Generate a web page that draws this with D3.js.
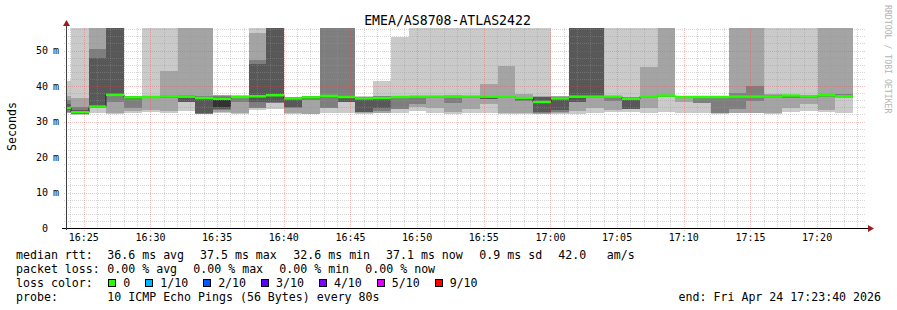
<!DOCTYPE html>
<html>
<head>
<meta charset="utf-8">
<script src="https://cdn.jsdelivr.net/npm/d3@7"></script>
<style>
body { margin: 0; background: #fff; }
text { font-family: "DejaVu Sans Mono", monospace; fill: #000; }
</style>
</head>
<body>
<svg id="chart" width="897" height="310"></svg>
<script>
var title = "EMEA/AS8708-ATLAS2422";
var startTime = new Date(2026, 3, 24, 16, 23, 40);
var endTime = new Date(2026, 3, 24, 17, 23, 40);
var firstStepEnd = new Date(2026, 3, 24, 16, 24, 2);
var stepSec = 80;

// 10 sorted pings per 80s step (ms), 60 = off the top of the chart
var pings = [
  [32.3, 32.5, 32.8, 33.2, 33.7, 34.0, 35.0, 36.0, 37.2, 41.4],
  [31.9, 32.0, 32.1, 32.2, 32.5, 32.7, 33.1, 34.0, 36.6, 60],
  [32.5, 33.7, 33.8, 33.9, 34.1, 34.3, 48.0, 50.4, 58, 60],
  [32.1, 32.3, 35.6, 37.2, 37.4, 37.7, 57, 58, 59, 60],
  [32.5, 33.0, 33.8, 36.3, 36.8, 36.9, 36.95, 37.1, 37.2, 37.3],
  [32.8, 33.2, 36.5, 36.7, 36.8, 36.9, 37.0, 37.1, 37.3, 60],
  [32.3, 33.0, 36.5, 36.9, 37.1, 37.2, 37.3, 37.5, 44.3, 60],
  [33.0, 35.4, 35.5, 35.6, 36.9, 37.1, 37.3, 37.5, 59, 60],
  [32.0, 32.1, 32.2, 32.3, 36.5, 36.7, 36.9, 37.3, 59, 60],
  [32.5, 32.8, 33.3, 33.5, 34.0, 36.5, 37.0, 37.2, 37.4, 37.6],
  [32.2, 32.5, 35.5, 36.6, 36.8, 37.0, 37.1, 37.2, 37.3, 37.4],
  [33.2, 33.8, 33.9, 35.6, 37.0, 37.3, 46.2, 47.3, 55.0, 60],
  [33.5, 35.2, 35.3, 35.4, 37.4, 37.6, 57, 58, 59, 60],
  [32.2, 32.3, 33.9, 34.0, 36.3, 36.6, 36.7, 36.8, 36.9, 37.0],
  [32.0, 32.2, 36.0, 36.4, 36.7, 36.9, 37.0, 37.1, 37.2, 37.3],
  [32.5, 33.7, 33.8, 36.9, 37.1, 37.3, 37.5, 58, 59, 60],
  [32.3, 35.4, 35.5, 35.6, 36.8, 37.0, 37.2, 58, 59, 60],
  [32.2, 32.4, 32.6, 32.8, 36.3, 36.7, 36.8, 36.9, 37.0, 37.2],
  [32.3, 32.5, 33.0, 33.9, 36.4, 36.8, 37.0, 37.1, 37.3, 41.4],
  [32.3, 33.4, 33.5, 36.5, 36.8, 37.0, 37.1, 37.2, 37.3, 53.9],
  [33.0, 34.0, 35.0, 36.8, 36.9, 37.0, 37.1, 37.2, 37.3, 60],
  [32.5, 33.8, 36.5, 36.7, 36.9, 37.0, 37.1, 37.2, 37.3, 60],
  [32.2, 32.8, 35.3, 36.8, 37.0, 37.1, 37.2, 37.3, 37.4, 60],
  [32.3, 33.5, 36.5, 36.7, 36.9, 37.0, 37.1, 37.2, 37.3, 60],
  [32.3, 35.0, 36.2, 36.4, 36.9, 37.1, 37.2, 37.3, 40.6, 60],
  [32.2, 32.3, 36.6, 36.8, 37.0, 37.1, 37.2, 37.3, 45.6, 60],
  [32.2, 32.3, 35.7, 36.0, 36.5, 36.7, 36.9, 37.0, 37.7, 60],
  [32.1, 32.2, 32.4, 32.6, 35.4, 35.7, 36.9, 37.0, 37.1, 60],
  [32.2, 32.4, 32.8, 33.3, 36.3, 36.7, 36.9, 37.0, 37.1, 37.3],
  [32.2, 33.0, 35.5, 35.6, 36.8, 37.2, 57, 58, 59, 60],
  [32.3, 33.7, 36.5, 36.7, 36.9, 37.2, 57, 58, 59, 60],
  [32.6, 33.3, 35.8, 36.7, 36.9, 37.0, 37.1, 37.2, 37.3, 60],
  [32.6, 33.4, 33.5, 33.6, 36.2, 36.6, 36.7, 36.8, 37.0, 60],
  [32.5, 33.8, 36.6, 36.8, 37.0, 37.1, 37.2, 37.3, 45.4, 60],
  [32.7, 36.8, 37.0, 37.1, 37.3, 37.4, 37.5, 37.6, 59, 60],
  [32.3, 35.5, 36.5, 36.7, 36.8, 36.9, 37.0, 37.1, 37.2, 37.3],
  [32.5, 35.2, 35.3, 36.6, 36.9, 36.95, 37.0, 37.1, 37.2, 37.3],
  [32.2, 32.3, 32.4, 36.6, 36.9, 36.95, 37.0, 37.1, 37.2, 37.3],
  [32.3, 32.5, 33.5, 36.5, 36.9, 37.1, 37.3, 38.1, 59, 60],
  [32.3, 32.5, 35.8, 36.6, 36.9, 37.1, 37.3, 39.9, 59, 60],
  [32.2, 32.3, 36.5, 36.7, 36.9, 37.1, 37.3, 37.4, 37.7, 60],
  [32.7, 33.9, 36.7, 37.0, 37.2, 37.3, 37.4, 37.5, 37.6, 60],
  [33.0, 35.0, 36.5, 36.8, 37.0, 37.2, 37.3, 37.4, 37.5, 60],
  [32.6, 33.2, 37.0, 37.2, 37.4, 37.5, 37.6, 37.8, 59, 60],
  [32.3, 36.5, 37.0, 37.2, 37.3, 37.5, 37.6, 37.7, 59, 60]
];

var medians = [
  33.8, 32.6, 34.2, 37.5, 36.8, 36.9, 37.1, 37.0, 36.6, 36.4,
  36.9, 37.1, 37.4, 36.5, 36.8, 37.2, 36.9, 36.5, 36.6, 36.9,
  37.0, 37.0, 37.0, 37.0, 37.0, 37.0, 36.6, 35.5, 36.5, 37.0,
  37.0, 37.0, 36.4, 37.0, 37.3, 36.9, 36.9, 36.9, 37.0, 37.0,
  37.0, 37.3, 37.1, 37.4, 37.1
];

var smokeColors = ["#cacaca", "#a4a4a4", "#7e7e7e", "#585858", "#323232"];
var yTicks = [0, 10, 20, 30, 40, 50];

var rttLabel = "median rtt:";
var rttStats = ["36.6 ms avg", "37.5 ms max", "32.6 ms min", "37.1 ms now", "0.9 ms sd", "42.0", "am/s"];
var lossLabel = "packet loss:";
var lossStats = ["0.00 % avg", "0.00 % max", "0.00 % min", "0.00 % now"];
var colorLabel = "loss color:";
var lossNames = ["0", "1/10", "2/10", "3/10", "4/10", "5/10", "9/10"];
var lossColors = ["#26ff00", "#00b8ff", "#0059ff", "#5e00ff", "#7e00ff", "#dd00ff", "#ff0000"];
var probeLabel = "probe:";
var probeText = "10 ICMP Echo Pings (56 Bytes) every 80s";
var endText = "end: Fri Apr 24 17:23:40 2026";

var svg = d3.select("#chart");
var plotL = 66, plotR = 866, plotT = 28, plotB = 228;
var minorCol = "rgba(150,150,150,0.38)", majorCol = "rgba(230,70,70,0.33)";

var x = d3.scaleTime().domain([startTime, endTime]).range([plotL, plotR]);
var y = d3.scaleLinear().domain([0, 200 / 3.55]).range([plotB, plotT]);

svg.append("defs").append("clipPath").attr("id", "plot")
  .append("rect").attr("x", plotL).attr("y", plotT).attr("width", plotR - plotL).attr("height", plotB - plotT);

var cols = pings.map(function (p, i) {
  var t1 = new Date(firstStepEnd.getTime() + i * stepSec * 1000);
  var t0 = i == 0 ? startTime : new Date(t1.getTime() - stepSec * 1000);
  return {p: p, med: medians[i], x0: Math.round(x(t0)), x1: Math.round(x(t1))};
});

// smoke
var plot = svg.append("g").attr("clip-path", "url(#plot)");
smokeColors.forEach(function (c, b) {
  plot.append("g").selectAll("rect")
    .data(cols)
    .enter()
    .append("rect")
    .attr("x", function (d) { return d.x0; })
    .attr("width", function (d) { return d.x1 - d.x0; })
    .attr("y", function (d) { return Math.round(y(d.p[9 - b])); })
    .attr("height", function (d) { return Math.max(0, Math.round(y(d.p[b])) - Math.round(y(d.p[9 - b]))); })
    .attr("fill", c)
    .attr("shape-rendering", "crispEdges");
});

// median line + loss colour band
var stepPts = [];
cols.forEach(function (d) { stepPts.push([d.x0, y(d.med)], [d.x1, y(d.med)]); });
plot.append("path")
  .attr("d", d3.line()(stepPts))
  .attr("fill", "none")
  .attr("stroke", "#202020")
  .attr("stroke-width", 1);

plot.append("g").selectAll("rect")
  .data(cols)
  .enter()
  .append("rect")
  .attr("x", function (d) { return d.x0; })
  .attr("width", function (d) { return d.x1 - d.x0; })
  .attr("y", function (d) { return y(d.med) - 1.25; })
  .attr("height", 2.5)
  .attr("fill", lossColors[0]);

// grid on top
var grid = svg.append("g");
var minorX = x.ticks(d3.timeMinute.every(1));
var majorX = x.ticks(d3.timeMinute.every(5));
var majorSet = majorX.map(function (d) { return +d; });
grid.selectAll(".vmin")
  .data(minorX.filter(function (d) { return majorSet.indexOf(+d) < 0; }))
  .enter().append("line")
  .attr("x1", function (d) { return Math.round(x(d)) + 0.5; })
  .attr("x2", function (d) { return Math.round(x(d)) + 0.5; })
  .attr("y1", plotT).attr("y2", plotB + 2)
  .attr("stroke", minorCol)
  .attr("stroke-dasharray", "1,1");

var minorY = d3.range(2, 57, 2).filter(function (v) { return v % 10 != 0; });
grid.selectAll(".hmin")
  .data(minorY)
  .enter().append("line")
  .attr("x1", plotL - 2).attr("x2", plotR)
  .attr("y1", function (d) { return Math.round(y(d)) + 0.5; })
  .attr("y2", function (d) { return Math.round(y(d)) + 0.5; })
  .attr("stroke", minorCol)
  .attr("stroke-dasharray", "1,1");

grid.selectAll(".vmaj")
  .data(majorX)
  .enter().append("line")
  .attr("x1", function (d) { return Math.round(x(d)) + 0.5; })
  .attr("x2", function (d) { return Math.round(x(d)) + 0.5; })
  .attr("y1", plotT).attr("y2", plotB + 3)
  .attr("stroke", majorCol)
  .attr("stroke-dasharray", "1,1");

grid.selectAll(".hmaj")
  .data(yTicks.slice(1))
  .enter().append("line")
  .attr("x1", plotL - 2).attr("x2", plotR)
  .attr("y1", function (d) { return Math.round(y(d)) + 0.5; })
  .attr("y2", function (d) { return Math.round(y(d)) + 0.5; })
  .attr("stroke", majorCol)
  .attr("stroke-dasharray", "1,1");

// axes
svg.append("line").attr("x1", plotL - 4).attr("x2", plotR + 3)
  .attr("y1", plotB + 0.5).attr("y2", plotB + 0.5).attr("stroke", "#000");
svg.append("line").attr("x1", plotL + 0.5).attr("x2", plotL + 0.5)
  .attr("y1", plotB + 2).attr("y2", plotT - 4).attr("stroke", "#404040");
svg.append("path").attr("d", "M63,26L70,26L66.5,20Z").attr("fill", "#9b1c1c");
svg.append("path").attr("d", "M868,225L868,232L874,228.5Z").attr("fill", "#9b1c1c");

// tick labels
svg.append("g").selectAll("text")
  .data(majorX)
  .enter().append("text")
  .attr("x", function (d) { return x(d); })
  .attr("y", 241)
  .attr("text-anchor", "middle")
  .attr("font-size", "10px")
  .text(d3.timeFormat("%H:%M"));

var yl = svg.append("g");
yl.selectAll(".num")
  .data(yTicks)
  .enter().append("text")
  .attr("x", 48)
  .attr("y", function (d) { return y(d) + 3.6; })
  .attr("text-anchor", "end")
  .attr("font-size", "10px")
  .text(function (d) { return d; });
yl.selectAll(".unit")
  .data(yTicks.slice(1))
  .enter().append("text")
  .attr("x", 53)
  .attr("y", function (d) { return y(d) + 3.6; })
  .attr("font-size", "10px")
  .text("m");

svg.append("text")
  .attr("transform", "translate(15.5,126.5) rotate(-90)")
  .attr("text-anchor", "middle")
  .attr("font-size", "11.6px")
  .text("Seconds");

svg.append("text")
  .attr("x", 447.5).attr("y", 24.5)
  .attr("text-anchor", "middle")
  .attr("font-size", "13.2px")
  .text(title);

svg.append("text")
  .attr("transform", "translate(884.5,5) rotate(90)")
  .attr("font-size", "8.2px")
  .style("fill", "#b4b4b4")
  .text("RRDTOOL / TOBI OETIKER");

// legend
var legend = svg.append("g").attr("font-size", "11.6px");
var rowY = [258.5, 272.6, 286.7, 300.8];
legend.append("text").attr("x", 16).attr("y", rowY[0]).text(rttLabel);
legend.append("text").attr("x", 16).attr("y", rowY[1]).text(lossLabel);
legend.append("text").attr("x", 16).attr("y", rowY[2]).text(colorLabel);
legend.append("text").attr("x", 16).attr("y", rowY[3]).text(probeLabel);

var rttX = [107.3, 200, 293.3, 386, 479.3, 558.3, 606.7];
legend.selectAll(".rtt")
  .data(rttStats)
  .enter().append("text")
  .attr("x", function (d, i) { return rttX[i]; })
  .attr("y", rowY[0])
  .text(function (d) { return d; });

var lossX = [107.3, 193.3, 279.3, 365.3];
legend.selectAll(".loss")
  .data(lossStats)
  .enter().append("text")
  .attr("x", function (d, i) { return lossX[i]; })
  .attr("y", rowY[1])
  .text(function (d) { return d; });

var bx = 108.3, charW = 6.97;
lossNames.forEach(function (name, i) {
  legend.append("rect")
    .attr("x", Math.round(bx) + 0.5).attr("y", 279.5)
    .attr("width", 7).attr("height", 7)
    .attr("fill", lossColors[i]).attr("stroke", "#000");
  legend.append("text").attr("x", bx + 15).attr("y", rowY[2]).text(name);
  bx = bx + 15 + name.length * charW + 15;
});

legend.append("text").attr("x", 107.3).attr("y", rowY[3]).text(probeText);
legend.append("text").attr("x", 881).attr("y", rowY[3]).attr("text-anchor", "end").text(endText);
</script>
</body>
</html>
